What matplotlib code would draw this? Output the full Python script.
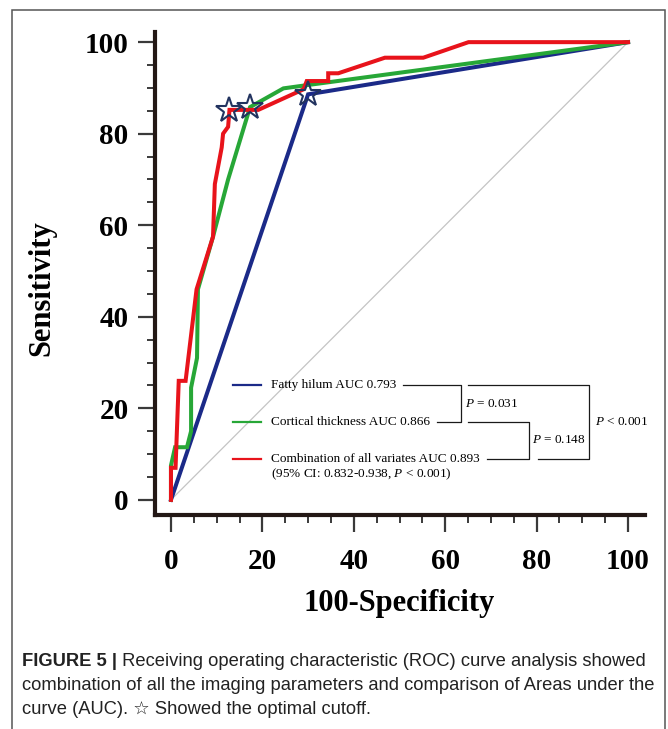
import matplotlib
matplotlib.use("Agg")
import matplotlib.pyplot as plt
from matplotlib.patches import Rectangle
from matplotlib.ticker import MultipleLocator

plt.rcParams["font.family"] = ["Liberation Serif", "DejaVu Serif"]
plt.rcParams["mathtext.fontset"] = "custom"
plt.rcParams["mathtext.rm"] = "Liberation Serif"
plt.rcParams["mathtext.it"] = "Liberation Serif:italic"

# ROC curves (100-specificity, sensitivity)
fatty_x = [0, 30.0, 100]
fatty_y = [0, 88.6, 100]

cortical_x = [0, 0, 0.9, 3.5, 4.4, 4.4, 5.7, 5.9, 9.2, 12.5, 17.3, 24.6, 29.7, 100]
cortical_y = [0, 7.5, 11.5, 11.5, 15.0, 24.5, 31.0, 46.0, 57.5, 70.0, 85.8, 89.9, 90.6, 100]

combo_x = [0, 0, 1.0, 1.7, 3.2, 5.6, 9.2, 9.6, 11.1, 11.4, 12.5, 12.8, 19.1,
           29.0, 29.7, 34.4, 34.4, 36.6, 46.8, 55.2, 65.1, 100]
combo_y = [0, 7.0, 7.0, 26.0, 26.0, 46.0, 57.5, 69.0, 77.0, 80.0, 81.5, 85.2, 85.2,
           89.7, 91.5, 91.5, 93.2, 93.2, 96.6, 96.6, 100, 100]

# optimal cutoffs (stars)
cutoff_x = [12.8, 17.3, 30.0]
cutoff_y = [85.2, 85.8, 88.6]

labels = [
    "Fatty hilum AUC 0.793",
    "Cortical thickness AUC 0.866",
    "Combination of all variates AUC 0.893",
]
ci_text = r"(95% CI: 0.832-0.938, $P$ < 0.001)"
p_values = [r"$P$ = 0.031", r"$P$ = 0.148", r"$P$ < 0.001"]

caption_bold = "FIGURE 5 |"
caption_lines = [
    " Receiving operating characteristic (ROC) curve analysis showed",
    "combination of all the imaging parameters and comparison of Areas under the",
    "curve (AUC). \u2606 Showed the optimal cutoff.",
]

RED = "#e8131b"
GREEN = "#27a737"
BLUE = "#1b2a88"
STAR = "#22335f"
DARK = "#231815"

fig = plt.figure(figsize=(6.68, 7.29), dpi=100)
ax = fig.add_axes([0.232, 0.2936, 0.7335, 0.6624])

ax.plot([0, 100], [0, 100], color="#c4c4c4", lw=0.9, zorder=1)
ax.plot(fatty_x, fatty_y, color=BLUE, lw=2.9, zorder=2, solid_joinstyle="miter")
ax.plot(cortical_x, cortical_y, color=GREEN, lw=2.9, zorder=3, solid_joinstyle="miter")
ax.plot(combo_x, combo_y, color=RED, lw=2.9, zorder=4, solid_joinstyle="miter")
ax.plot(cutoff_x, cutoff_y, ls="none", marker="*", ms=19, mfc="none",
        mec=STAR, mew=1.5, zorder=5)

ax.set_xlim(-3.5, 103.7)
ax.set_ylim(-3.3, 102.2)
ax.xaxis.set_major_locator(MultipleLocator(20))
ax.xaxis.set_minor_locator(MultipleLocator(5))
ax.yaxis.set_major_locator(MultipleLocator(20))
ax.yaxis.set_minor_locator(MultipleLocator(5))
for side in ("top", "right"):
    ax.spines[side].set_visible(False)
for side in ("left", "bottom"):
    ax.spines[side].set_linewidth(3)
    ax.spines[side].set_color(DARK)
    ax.spines[side].set_capstyle("projecting")
ax.tick_params(which="major", length=12, width=1.6, color="#3a3a3a",
               labelsize=21, direction="out")
ax.tick_params(which="minor", length=6, width=1.4, color="#3a3a3a", direction="out")
ax.tick_params(axis="x", which="major", pad=12)
ax.tick_params(axis="y", which="major", pad=7)
for lab in ax.get_xticklabels() + ax.get_yticklabels():
    lab.set_fontweight("bold")

fig.text(399 / 668, 1 - 604 / 729, "100-Specificity", fontsize=22,
         fontweight="bold", ha="center", va="center")
fig.text(42 / 668, 1 - 288 / 729, "Sensitivity", fontsize=22,
         fontweight="bold", ha="center", va="center", rotation=90)

renderer = fig.canvas.get_renderer()
to_data = ax.transData.inverted()

# legend block with comparison brackets
rows = [25.1, 17.0, 9.0]
colors = [BLUE, GREEN, RED]
ends = []
for y, c, t in zip(rows, colors, labels):
    ax.plot([13.6, 19.7], [y, y], color=c, lw=1.6, zorder=6)
    txt = ax.text(21.9, y, t, fontsize=9.5, va="center", ha="left", zorder=6)
    x1 = txt.get_window_extent(renderer).x1 + 7
    ends.append(to_data.transform((x1, 0))[0])
ax.text(21.9, 5.6, ci_text, fontsize=9.5, va="center", ha="left", zorder=6)

bk = dict(color="#1a1a1a", lw=0.9, zorder=6)
ax.plot([ends[0], 63.5, 63.5, ends[1]], [rows[0], rows[0], rows[1], rows[1]], **bk)
ax.plot([65.0, 78.3, 78.3, ends[2]], [rows[1], rows[1], rows[2], rows[2]], **bk)
ax.plot([65.0, 91.5, 91.5, 80.3], [rows[0], rows[0], rows[2], rows[2]], **bk)
ax.text(64.3, 20.9, p_values[0], fontsize=9.5, va="center", ha="left")
ax.text(79.0, 13.1, p_values[1], fontsize=9.5, va="center", ha="left")
ax.text(92.8, 17.1, p_values[2], fontsize=9.5, va="center", ha="left")

# frame and caption
fig.patches.append(Rectangle((12 / 668, -0.05), 653 / 668, 1.05 - 10 / 729,
                             transform=fig.transFigure, fill=False,
                             ec="#555555", lw=1.1))
cap_font = ["Liberation Sans", "DejaVu Sans"]
cap_size = 13.2
cap_y = [1 - 662 / 729, 1 - 686 / 729, 1 - 710 / 729]
bold = fig.text(22 / 668, cap_y[0], caption_bold, fontsize=cap_size, fontweight="bold",
                family=cap_font, va="center", ha="left", color="#222222")
bb = bold.get_window_extent(renderer)
fig.text(bb.x1 / fig.bbox.width, cap_y[0], caption_lines[0], fontsize=cap_size,
         family=cap_font, va="center", ha="left", color="#222222")
for y, line in zip(cap_y[1:], caption_lines[1:]):
    fig.text(22 / 668, y, line, fontsize=cap_size, family=cap_font,
             va="center", ha="left", color="#222222")

fig.savefig("out.png", dpi=100)
